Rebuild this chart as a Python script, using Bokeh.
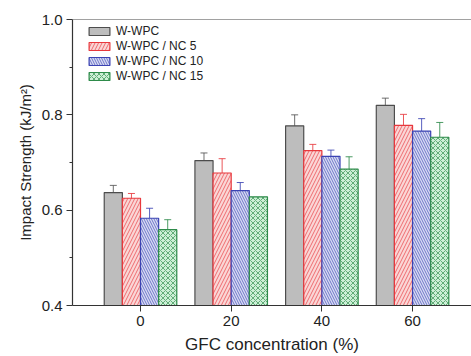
from bokeh.plotting import figure
from bokeh.models import ColumnDataSource, Range1d, Whisker, TeeHead, Span, FixedTicker, NumeralTickFormatter
from bokeh.transform import dodge
from bokeh.embed import file_html
from bokeh.resources import INLINE

# ---- data ----
conc = [0, 20, 40, 60]
w_wpc = [0.637, 0.704, 0.777, 0.820]
w_wpc_err = [0.015, 0.016, 0.023, 0.015]
nc5 = [0.625, 0.678, 0.725, 0.778]
nc5_err = [0.010, 0.030, 0.013, 0.023]
nc10 = [0.583, 0.641, 0.713, 0.766]
nc10_err = [0.021, 0.017, 0.013, 0.026]
nc15 = [0.559, 0.628, 0.686, 0.753]
nc15_err = [0.021, 0.0, 0.026, 0.031]

series = [
    ("W-WPC", w_wpc, w_wpc_err, -6, "#BDBDBD", "#4D4D4D", None, "#555555"),
    ("W-WPC / NC 5", nc5, nc5_err, -2, "#FAD6D6", "#E8383D", "right_diagonal_line", "#E8383D"),
    ("W-WPC / NC 10", nc10, nc10_err, 2, "#D8DCF3", "#3B43B3", "left_diagonal_line", "#3B43B3"),
    ("W-WPC / NC 15", nc15, nc15_err, 6, "#CDEFD6", "#2E8B4A", "diagonal_cross", "#2E8B4A"),
]
hatch_scales = {"right_diagonal_line": 7, "left_diagonal_line": 5, "diagonal_cross": 5}

FONT = "Liberation Sans"
TXT = "#222222"

p = figure(width=471, height=356, output_backend="svg", toolbar_location=None,
           x_range=Range1d(-15, 73), y_range=Range1d(0.4, 1.0),
           min_border_left=72, min_border_right=0, min_border_top=19, min_border_bottom=50,
           background_fill_color="white", border_fill_color="white")
p.outline_line_color = None
p.xgrid.visible = False
p.ygrid.visible = False

for name, vals, errs, off, fill, line, hatch, ecol in series:
    src = ColumnDataSource(dict(x=conc, top=vals))
    kw = {}
    if hatch:
        kw = dict(hatch_pattern=hatch, hatch_color=line, hatch_scale=hatch_scales[hatch],
                  hatch_weight=0.8, hatch_alpha=0.85)
    p.vbar(x=dodge("x", off), top="top", bottom=0, width=4, source=src,
           fill_color=fill, line_color=line, line_width=1.2, legend_label=name, **kw)
    esrc = ColumnDataSource(dict(
        x=[c for c, e in zip(conc, errs) if e > 0],
        upper=[v + e for v, e in zip(vals, errs) if e > 0],
        lower=[v - e for v, e in zip(vals, errs) if e > 0]))
    w = Whisker(base=dodge("x", off), upper="upper", lower="lower", source=esrc,
                line_color=ecol, line_width=1, line_alpha=0.85,
                upper_head=TeeHead(size=7, line_color=ecol, line_alpha=0.85),
                lower_head=TeeHead(size=7, line_color=ecol, line_alpha=0.85))
    p.add_layout(w)

p.add_layout(Span(location=1.0, dimension="width", line_color="#444444", line_width=1.2))

for ax in (p.xaxis[0], p.yaxis[0]):
    ax.axis_line_color = "#333333"
    ax.axis_line_width = 1.2
    ax.major_tick_line_color = "#333333"
    ax.minor_tick_line_color = "#333333"
    ax.major_tick_in = 0
    ax.major_tick_out = 6
    ax.minor_tick_in = 0
    ax.minor_tick_out = 3
    ax.major_label_text_font = FONT
    ax.major_label_text_font_size = "15px"
    ax.major_label_text_color = TXT
    ax.axis_label_text_font = FONT
    ax.axis_label_text_font_style = "normal"
    ax.axis_label_text_color = TXT
    ax.major_label_standoff = 4

p.xaxis.ticker = FixedTicker(ticks=conc)
p.xaxis.axis_label = "GFC concentration (%)"
p.xaxis.axis_label_text_font_size = "17px"
p.xaxis.axis_label_standoff = 6
p.yaxis.ticker = FixedTicker(ticks=[0.4, 0.6, 0.8, 1.0], minor_ticks=[0.5, 0.7, 0.9])
p.yaxis.formatter = NumeralTickFormatter(format="0.0")
p.yaxis.axis_label = "Impact Strength (kJ/m²)"
p.yaxis.axis_label_text_font_size = "15px"
p.yaxis.axis_label_standoff = 5

lg = p.legend[0]
lg.location = (14, 222)
lg.margin = 0
lg.padding = 0
lg.spacing = 1
lg.glyph_width = 26
lg.glyph_height = 10
lg.label_height = 12
lg.label_standoff = 4
lg.label_text_font = FONT
lg.label_text_font_style = "normal"
lg.label_text_font_size = "12px"
lg.label_text_color = TXT
lg.border_line_color = None
lg.background_fill_alpha = 0

open("out.html", "w").write(file_html(p, INLINE))
